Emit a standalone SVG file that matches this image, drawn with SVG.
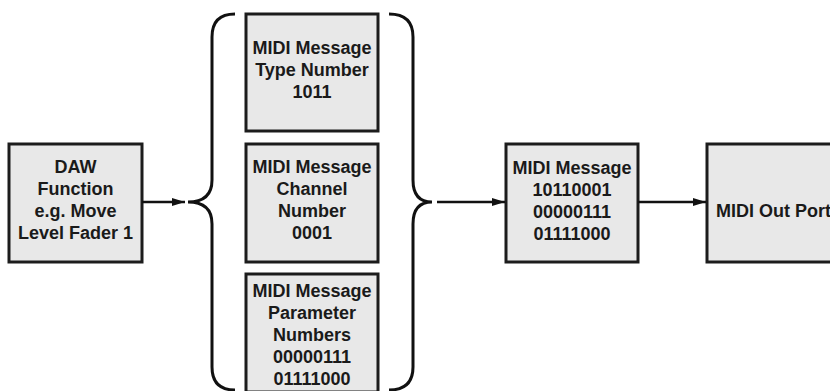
<svg xmlns="http://www.w3.org/2000/svg" width="830" height="391" viewBox="0 0 830 391">
  <style>
    .box { fill: #e8e8e8; stroke: #1c1c1c; stroke-width: 3; }
    .lbl { font-family: "Liberation Sans", Arial, sans-serif; font-weight: bold; font-size: 18px; fill: #1a1a1a; text-anchor: middle; }
    .wire { fill: none; stroke: #111; stroke-width: 2.5; }
    .brace { fill: none; stroke: #111; stroke-width: 3; }
  </style>
  <defs>
    <marker id="arrow" viewBox="0 0 13 8" refX="13" refY="4" markerWidth="13" markerHeight="8" markerUnits="userSpaceOnUse" orient="auto">
      <path d="M0,0 L13,4 L0,8 Z" fill="#111"/>
    </marker>
  </defs>
  <rect width="830" height="391" fill="#ffffff"/>

  <g id="daw-function">
    <rect class="box" x="9" y="144" width="133" height="118"/>
    <text class="lbl" x="75.5" y="173">DAW</text>
    <text class="lbl" x="75.5" y="195">Function</text>
    <text class="lbl" x="75.5" y="217">e.g. Move</text>
    <text class="lbl" x="75.5" y="239">Level Fader 1</text>
  </g>

  <g id="type-number">
    <rect class="box" x="246" y="14" width="132" height="117"/>
    <text class="lbl" x="312" y="54">MIDI Message</text>
    <text class="lbl" x="312" y="76">Type Number</text>
    <text class="lbl" x="312" y="98">1011</text>
  </g>

  <g id="channel-number">
    <rect class="box" x="246" y="144" width="132" height="118"/>
    <text class="lbl" x="312" y="173">MIDI Message</text>
    <text class="lbl" x="312" y="195">Channel</text>
    <text class="lbl" x="312" y="217">Number</text>
    <text class="lbl" x="312" y="239">0001</text>
  </g>

  <g id="parameter-numbers">
    <rect class="box" x="246" y="274" width="132" height="118"/>
    <text class="lbl" x="312" y="297">MIDI Message</text>
    <text class="lbl" x="312" y="319">Parameter</text>
    <text class="lbl" x="312" y="341">Numbers</text>
    <text class="lbl" x="312" y="363">00000111</text>
    <text class="lbl" x="312" y="385">01111000</text>
  </g>

  <g id="midi-message">
    <rect class="box" x="506" y="144" width="132" height="118"/>
    <text class="lbl" x="572" y="174">MIDI Message</text>
    <text class="lbl" x="572" y="196">10110001</text>
    <text class="lbl" x="572" y="218">00000111</text>
    <text class="lbl" x="572" y="240">01111000</text>
  </g>

  <g id="midi-out-port">
    <rect class="box" x="707" y="144" width="133" height="118"/>
    <text class="lbl" x="773.5" y="217">MIDI Out Port</text>
  </g>

  <g id="connectors">
    <path class="brace" d="M235,14 Q212,14 212,37 V180 Q212,202 188,202 Q212,202 212,224 V367 Q212,390 235,390"/>
    <path class="brace" d="M389,14 Q413,14 413,37 V180 Q413,202 432,202 Q413,202 413,224 V367 Q413,390 389,390"/>
    <line class="wire" x1="142" y1="202" x2="185" y2="202" marker-end="url(#arrow)"/>
    <line class="wire" x1="437" y1="202" x2="505" y2="202" marker-end="url(#arrow)"/>
    <line class="wire" x1="638" y1="202" x2="706" y2="202" marker-end="url(#arrow)"/>
  </g>
</svg>
